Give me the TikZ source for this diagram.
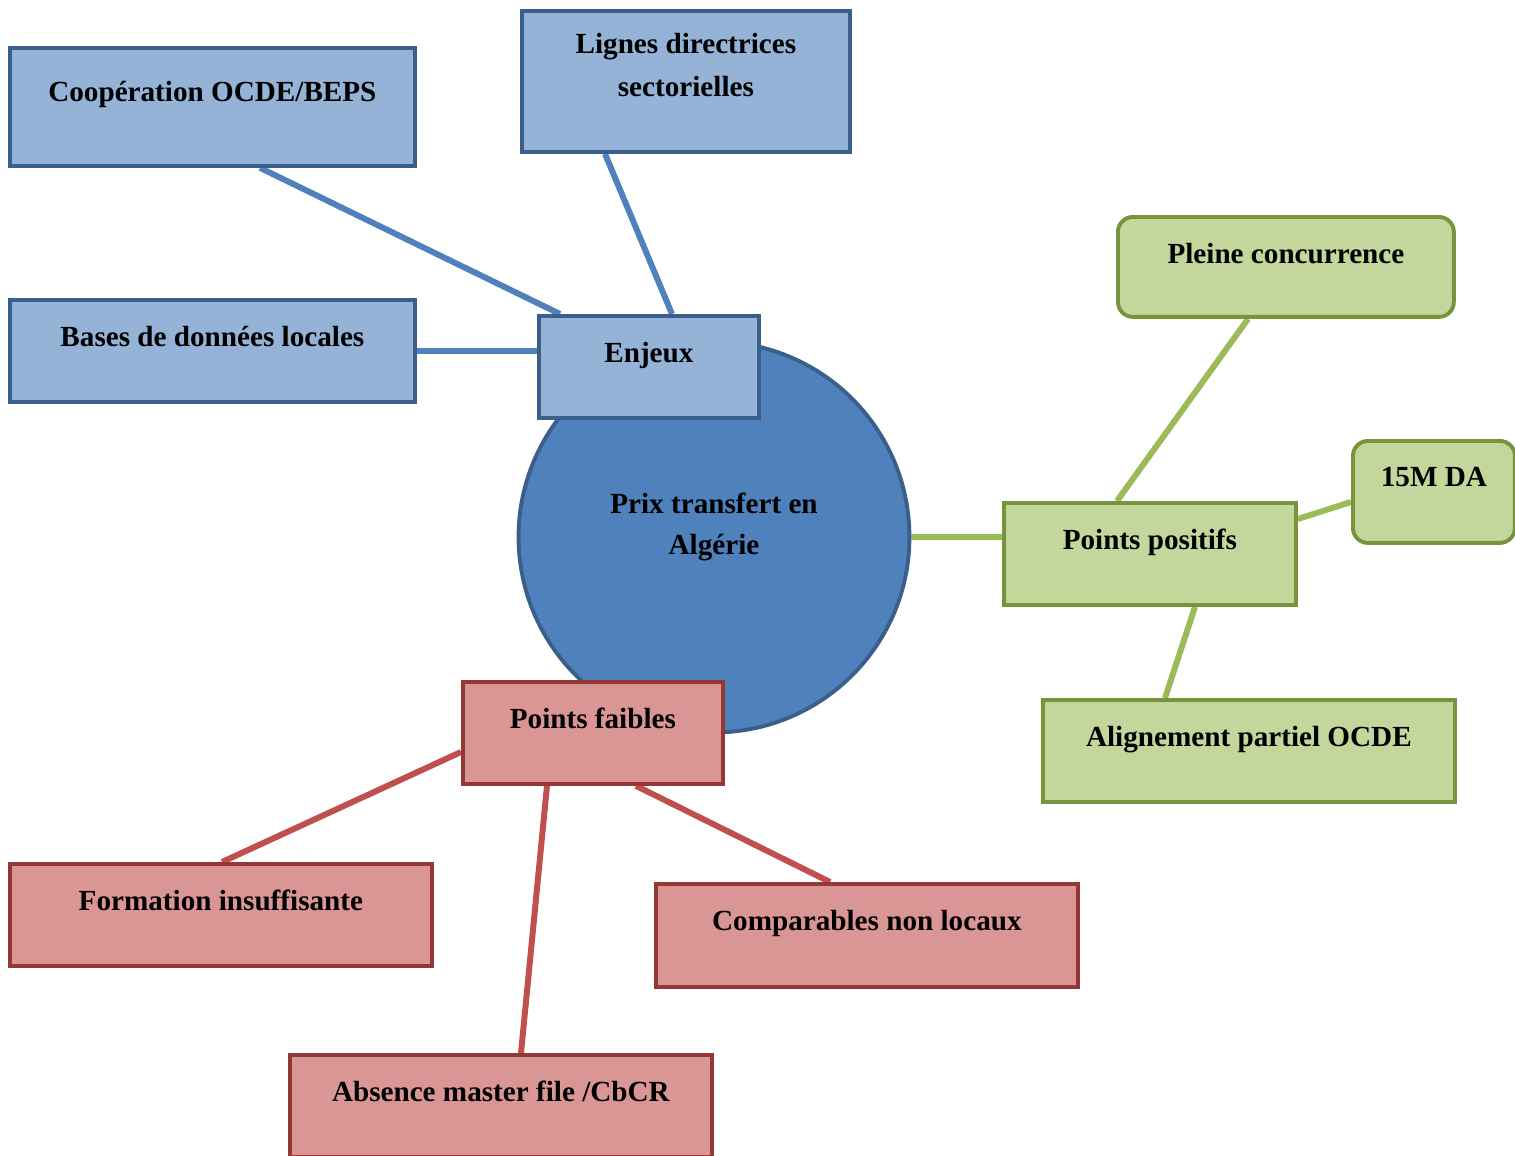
\documentclass[tikz,border=0pt]{standalone}
\usepackage{fontspec}
\setmainfont{Liberation Serif}
\usepackage{tikz}
\usetikzlibrary{backgrounds}
\usepackage{xcolor}

\definecolor{blueFill}{HTML}{95B3D7}
\definecolor{blueEdge}{HTML}{3A5F8B}
\definecolor{blueLink}{HTML}{4F81BD}
\definecolor{greenFill}{HTML}{C3D69B}
\definecolor{greenEdge}{HTML}{77933C}
\definecolor{greenLink}{HTML}{9BBB59}
\definecolor{redFill}{HTML}{D99694}
\definecolor{redEdge}{HTML}{953735}
\definecolor{redLink}{HTML}{C0504D}

\begin{document}
\begin{tikzpicture}[x=0.02cm,y=-0.02cm,%
    font=\fontsize{16.6}{24.5}\selectfont\bfseries,
    box/.style={%
      rectangle,anchor=north west,line width=2.2pt,inner ysep=0pt,
      text height=0.94cm,text depth=#1,minimum height=0.94cm+#1},
    bluebox/.style={box=#1,draw=blueEdge,fill=blueFill},
    greenbox/.style={box=#1,draw=greenEdge,fill=greenFill},
    redbox/.style={box=#1,draw=redEdge,fill=redFill},
    link/.style={line width=3.4pt}
  ]
    \useasboundingbox (0,0) rectangle (1515,1156);
    \node[circle,draw=blueEdge,fill=blueLink,line width=2.2pt,minimum size=7.82cm,
          align=center,text height=1.2cm,text depth=0.52cm,
          font=\fontsize{16.6}{22.8}\selectfont\bfseries] (prix) at (714,537) {Prix transfert en\\Algérie};

    \node[bluebox=1.28cm,minimum width=8.1cm,text height=1.08cm,minimum height=2.36cm] (coop) at (8,46) {Coopération OCDE/BEPS};
    \node[bluebox=1.1cm,minimum width=6.56cm,text height=1.72cm,align=center]
          (lignes) at (520,9) {Lignes directrices\\sectorielles};
    \node[bluebox=1.1cm,minimum width=8.1cm] (bases) at (8,298)  {Bases de données locales};
    \node[bluebox=1.1cm,minimum width=4.4cm] (enjeux) at (537,314) {Enjeux};

    \node[greenbox=1.06cm,minimum width=6.72cm,rounded corners=0.3cm] (pleine) at (1116,215) {Pleine concurrence};
    \node[greenbox=1.1cm,minimum width=3.24cm,rounded corners=0.3cm,text height=0.9cm] (quinze) at (1351,439) {15M DA};
    \node[greenbox=1.1cm,minimum width=5.84cm] (positifs) at (1002,501) {Points positifs};
    \node[greenbox=1.1cm,minimum width=8.24cm] (alignement) at (1041,698) {Alignement partiel OCDE};

    \node[redbox=1.1cm,minimum width=5.2cm,text height=0.92cm] (faibles) at (461,680) {Points faibles};
    \node[redbox=1.1cm,minimum width=8.44cm] (formation) at (8,862) {Formation insuffisante};
    \node[redbox=1.12cm,minimum width=8.44cm] (comparables) at (654,882) {Comparables non locaux};
    \node[redbox=1.1cm,minimum width=8.44cm] (absence) at (288,1053) {Absence master file /CbCR};

    \begin{pgfonlayer}{background}
    \path[link,draw=blueLink]
          (260,0 |- coop.south) -- (560,0 |- enjeux.north)
          (605,0 |- lignes.south) -- (672,0 |- enjeux.north)
          (bases.east |- 0,351) -- (enjeux.west |- 0,351);
    \path[link,draw=greenLink]
          (prix.east) -- (prix.east -| positifs.west)
          (1248,0 |- pleine.south) -- (1117,0 |- positifs.north)
          (quinze.west |- 0,502) -- (positifs.east |- 0,519)
          (1195,0 |- positifs.south) -- (1165,0 |- alignement.north);
    \path[link,draw=redLink]
          (faibles.west |- 0,752) -- (222,0 |- formation.north)
          (547,0 |- faibles.south) -- (521,0 |- absence.north)
          (636,0 |- faibles.south) -- (830,0 |- comparables.north);
    \end{pgfonlayer}
  \end{tikzpicture}
\end{document}
